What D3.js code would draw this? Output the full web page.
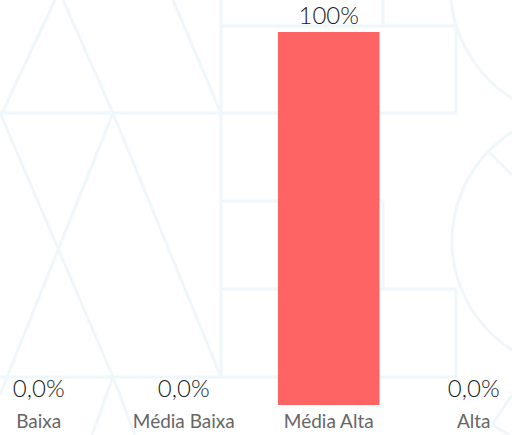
<!DOCTYPE html>
<html>
<head>
<meta charset="utf-8">
<script src="https://cdn.jsdelivr.net/npm/d3@7/dist/d3.min.js"></script>
<style>
  html, body { margin: 0; padding: 0; background: #ffffff; }
  svg { display: block; }
</style>
</head>
<body>
<svg id="chart" width="512" height="435"></svg>
<script>
const categories = ["Baixa", "Média Baixa", "Média Alta", "Alta"];
const values = [0, 0, 100, 0];
const valueLabels = ["0,0%", "0,0%", "100%", "0,0%"];

const W = 512, H = 435;
const svg = d3.select("#chart");

// decorative background pattern
const bg = svg.append("g").attr("fill", "none").attr("stroke", "#f0f7fb").attr("stroke-width", 3);
const segs = [
  [[2,113],[55,0]], [[63,0],[113,113]], [[173,0],[221,113]],
  [[221,0],[221,377]], [[221,26],[456,26]], [[383,0],[383,26]], [[456,26],[456,113]],
  [[0,113],[456,113]],
  [[0,113],[113,377]], [[113,113],[7,377]], [[113,113],[221,377]],
  [[221,201],[383,201]], [[383,201],[383,289]], [[221,289],[456,289]],
  [[456,289],[456,377]], [[0,377],[456,377]],
  [[7,377],[0,395]], [[113,377],[135,435]], [[113,377],[92,435]],
  [[490,153],[512,175]], [[512,395],[492,425]], [[492,425],[510,435]]
];
segs.forEach(s => bg.append("line").attr("x1", s[0][0]).attr("y1", s[0][1]).attr("x2", s[1][0]).attr("y2", s[1][1]));
bg.append("circle").attr("cx", 585).attr("cy", -15).attr("r", 135);
bg.append("circle").attr("cx", 581).attr("cy", 241).attr("r", 129);

const x = d3.scaleBand().domain(categories).range([-12, 524.5]).paddingInner(0.3).paddingOuter(0);
const y = d3.scaleLinear().domain([0, 100]).range([405, 32]);

svg.append("g").selectAll("rect").data(categories).join("rect")
  .attr("x", d => x(d))
  .attr("width", x.bandwidth())
  .attr("y", (d, i) => y(values[i]))
  .attr("height", (d, i) => y(0) - y(values[i]))
  .attr("fill", "#ff6464");

svg.append("g").selectAll("text").data(categories).join("text")
  .attr("x", d => x(d) + x.bandwidth() / 2)
  .attr("y", (d, i) => y(values[i]) - 8)
  .attr("text-anchor", "middle")
  .attr("font-family", "Lato, 'Open Sans', sans-serif")
  .attr("font-weight", 300)
  .attr("font-size", 24)
  .attr("fill", "#1a1a1a")
  .text((d, i) => valueLabels[i]);

const axis = svg.append("g").attr("transform", `translate(0,${y(0)})`)
  .call(d3.axisBottom(x).tickSize(0).tickPadding(10));
axis.select(".domain").remove();
axis.selectAll("text")
  .attr("font-family", "Lato, 'Open Sans', sans-serif")
  .attr("font-weight", 400)
  .attr("font-size", 19)
  .attr("fill", "#666");
</script>
</body>
</html>
